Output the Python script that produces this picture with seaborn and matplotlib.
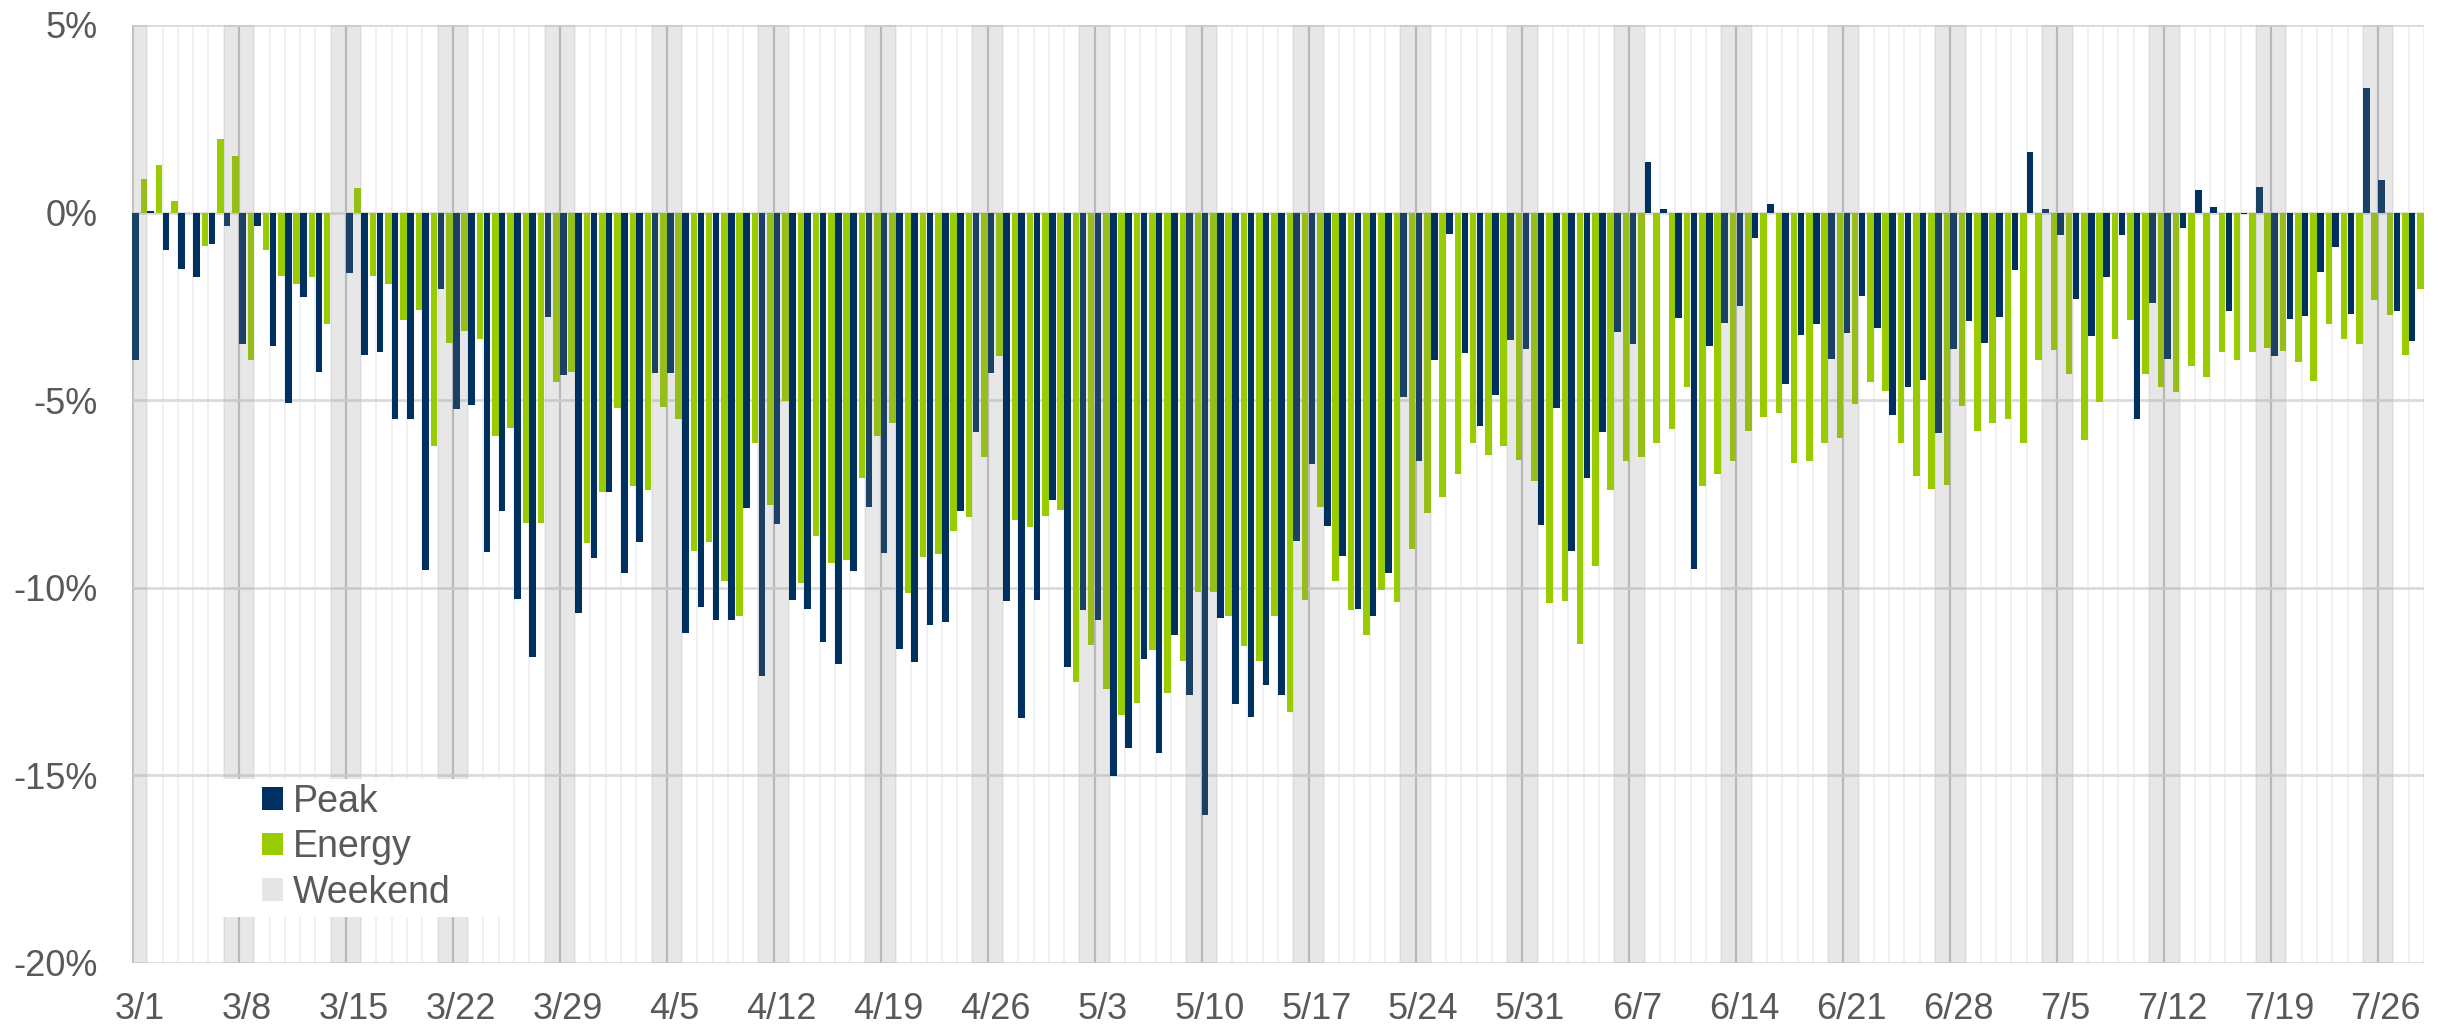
import datetime as dt
import numpy as np
import pandas as pd
import matplotlib
matplotlib.use("Agg")
import matplotlib.pyplot as plt
import seaborn as sns
from matplotlib.patches import Patch, Rectangle

# ---------------- data ----------------
start = dt.date(2020, 3, 1)
n_days = 150
dates = [start + dt.timedelta(days=k) for k in range(n_days)]
day_labels = [f"{d.month}/{d.day}" for d in dates]
weekend = [d.weekday() >= 5 for d in dates]

peak = [
    -3.92, 0.05, -1.00, -1.50, -1.72, -0.83, -0.35,
    -3.49, -0.35, -3.55, -5.07, -2.25, -4.25, 0.00,
    -1.61, -3.80, -3.71, -5.51, -5.51, -9.52, -2.03,
    -5.24, -5.14, -9.05, -7.94, -10.30, -11.85, -2.77,
    -4.32, -10.66, -9.21, -7.45, -9.61, -8.77, -4.27,
    -4.27, -11.21, -10.51, -10.85, -10.85, -7.86, -12.36,
    -8.30, -10.32, -10.56, -11.44, -12.03, -9.56, -7.84,
    -9.08, -11.63, -11.98, -10.98, -10.92, -7.94, -5.84,
    -4.27, -10.36, -13.48, -10.32, -7.66, -12.11, -10.60,
    -10.87, -15.02, -14.28, -11.91, -14.40, -11.25, -12.86,
    -16.06, -10.81, -13.11, -13.44, -12.58, -12.86, -8.76,
    -6.71, -8.35, -9.14, -10.57, -10.74, -9.61, -4.91,
    -6.61, -3.94, -0.57, -3.74, -5.69, -4.87, -3.40,
    -3.63, -8.32, -5.20, -9.02, -7.07, -5.84, -3.18,
    -3.49, 1.36, 0.10, -2.80, -9.49, -3.56, -2.94,
    -2.50, -0.68, 0.23, -4.58, -3.25, -2.96, -3.91,
    -3.21, -2.21, -3.08, -5.40, -4.66, -4.47, -5.87,
    -3.63, -2.90, -3.48, -2.77, -1.54, 1.62, 0.10,
    -0.59, -2.31, -3.30, -1.72, -0.59, -5.49, -2.40,
    -3.89, -0.42, 0.60, 0.16, -2.62, -0.04, 0.69,
    -3.82, -2.83, -2.76, -1.59, -0.92, -2.71, 3.31,
    0.87, -2.61, -3.42,
]

energy = [
    0.90, 1.27, 0.32, 0.00, -0.90, 1.96, 1.52,
    -3.94, -1.01, -1.70, -1.90, -1.72, -2.96, 0.00,
    0.66, -1.70, -1.91, -2.85, -2.59, -6.21, -3.48,
    -3.16, -3.38, -5.95, -5.74, -8.26, -8.26, -4.51,
    -4.26, -8.81, -7.44, -5.22, -7.29, -7.40, -5.18,
    -5.49, -9.03, -8.79, -9.82, -10.74, -6.15, -7.79,
    -5.02, -9.88, -8.61, -9.33, -9.26, -7.08, -5.95,
    -5.60, -10.14, -9.18, -9.10, -8.48, -8.10, -6.52,
    -3.82, -8.19, -8.37, -8.08, -7.93, -12.52, -11.53,
    -12.69, -13.40, -13.07, -11.67, -12.80, -11.94, -10.10,
    -10.10, -10.75, -11.56, -11.96, -10.76, -13.32, -10.32,
    -7.84, -9.83, -10.59, -11.25, -10.05, -10.39, -8.97,
    -8.00, -7.59, -6.98, -6.13, -6.45, -6.21, -6.60,
    -7.15, -10.41, -10.35, -11.50, -9.41, -7.39, -6.61,
    -6.51, -6.13, -5.78, -4.65, -7.29, -6.98, -6.62,
    -5.82, -5.44, -5.34, -6.68, -6.62, -6.13, -6.02,
    -5.11, -4.51, -4.75, -6.15, -7.02, -7.38, -7.26,
    -5.15, -5.82, -5.62, -5.49, -6.15, -3.94, -3.67,
    -4.31, -6.06, -5.06, -3.38, -2.85, -4.31, -4.66,
    -4.78, -4.10, -4.38, -3.71, -3.94, -3.71, -3.61,
    -3.69, -3.98, -4.49, -2.96, -3.38, -3.49, -2.32,
    -2.74, -3.80, -2.03,
]

series_names = ["Peak", "Energy"]
y_ticks = [5, 0, -5, -10, -15, -20]

# ---------------- style ----------------
NAVY = "#00305f"
GREEN = "#99cc00"
WEEKEND = "#e6e6e6"
TEXT = "#595959"

sns.set_theme(style="white")
plt.rcParams["font.family"] = ["Liberation Sans", "DejaVu Sans"]

W, H = 2447, 1027
fig = plt.figure(figsize=(W / 100, H / 100), dpi=100)
L, R, T, B = 132, 2424, 25, 963
ax = fig.add_axes([L / W, 1 - B / H, (R - L) / W, (B - T) / H])

df = pd.DataFrame({
    "day": day_labels * 2,
    "value": peak + energy,
    "series": ["Peak"] * n_days + ["Energy"] * n_days,
})

sns.barplot(data=df, x="day", y="value", hue="series", order=day_labels,
            hue_order=series_names, palette=[NAVY, GREEN], width=1.0, gap=0.14,
            saturation=1, errorbar=None, legend=False, ax=ax, zorder=2,
            linewidth=0)

for cont, shift in zip(ax.containers, [-0.025, 0.025]):
    for p in cont:
        p.set_x(p.get_x() + shift)

ax.set_xlim(-0.5, n_days - 0.5)
ax.set_ylim(-20, 5)

# grid lines
for yv in y_ticks:
    ax.axhline(yv, color="#d9d9d9", lw=1.9, zorder=1)
for k in range(n_days + 1):
    ax.axvline(k - 0.5, color="#efefef", lw=1.3, zorder=0.5)
ax.axvline(-0.5, color="#cdcdcd", lw=2.0, zorder=0.6)
for k in range(n_days - 1):
    if weekend[k] and weekend[k + 1]:
        ax.axvline(k + 0.5, color="#c4c4c4", lw=1.6, zorder=0.6)

# weekend shading (over the bars, translucent)
for i, wk in enumerate(weekend):
    if wk:
        ax.axvspan(i - 0.5, i + 0.5, color="#8a8a8a", alpha=0.2, lw=0, zorder=3)

# ticks
ax.set_xticks(range(0, n_days, 7))
ax.set_xticklabels(day_labels[::7])
ax.set_yticks(y_ticks)
ax.set_yticklabels([f"{v}%" for v in y_ticks])
ax.tick_params(axis="x", length=0, pad=21, labelsize=26, colors=TEXT)
ax.tick_params(axis="y", length=0, pad=25, labelsize=26, colors=TEXT)
ax.set_xlabel("")
ax.set_ylabel("")
for s in ax.spines.values():
    s.set_visible(False)

# legend with white box
pw, ph = R - L, B - T
ax.add_patch(Rectangle(((223 - L) / pw, (B - 917) / ph), (500 - 223) / pw, (917 - 779) / ph,
                       transform=ax.transAxes, facecolor="white", edgecolor="none", zorder=4))
handles = [Patch(facecolor=NAVY, edgecolor="none"),
           Patch(facecolor=GREEN, edgecolor="none"),
           Patch(facecolor=WEEKEND, edgecolor="none")]
leg = ax.legend(handles, ["Peak", "Energy", "Weekend"], loc="upper left",
                bbox_to_anchor=((262 - L) / pw, (B - 784) / ph), frameon=False,
                fontsize=27, handlelength=0.55, handleheight=0.55, handletextpad=0.28,
                labelspacing=0.25, borderpad=0, borderaxespad=0)
for t in leg.get_texts():
    t.set_color(TEXT)
leg.set_zorder(5)

fig.savefig("out.png", dpi=100)
